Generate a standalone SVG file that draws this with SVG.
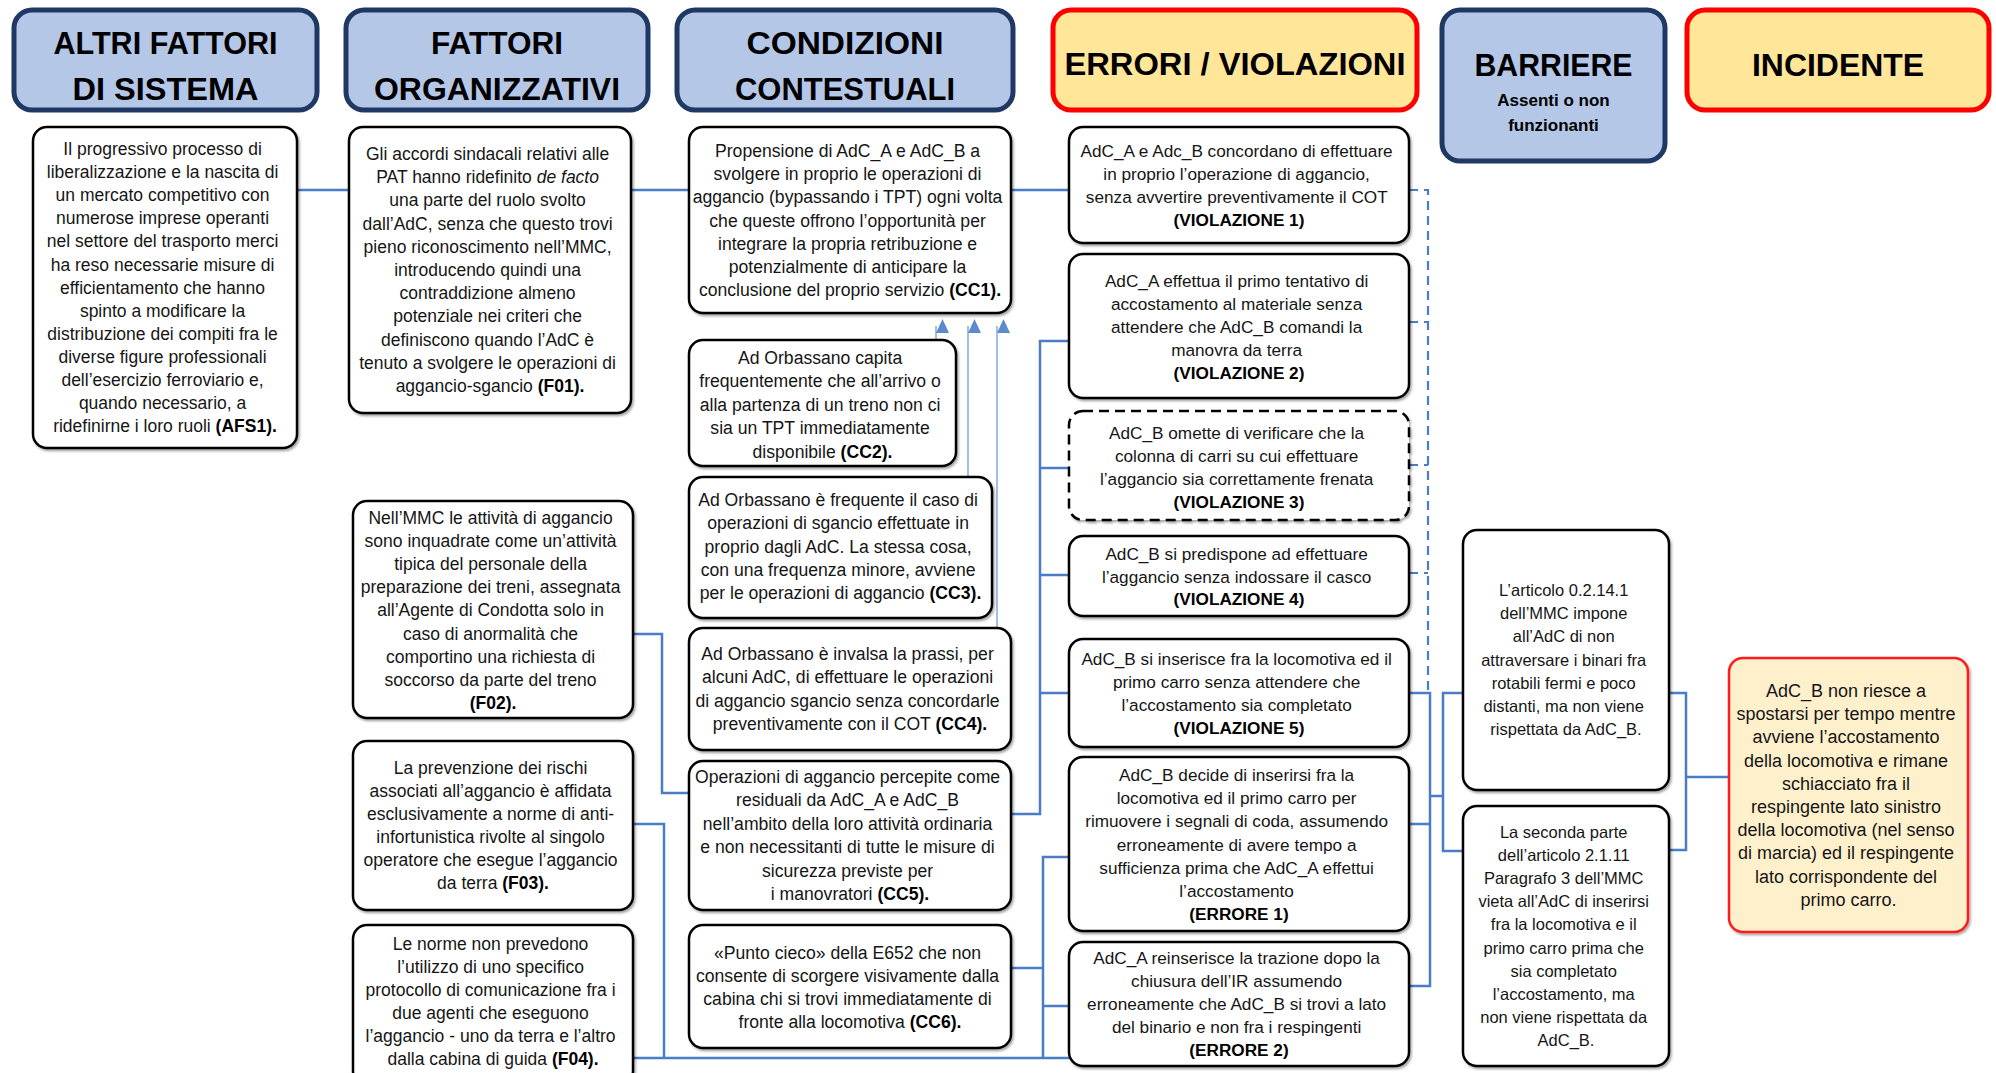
<svg xmlns="http://www.w3.org/2000/svg" width="1996" height="1073" viewBox="0 0 1996 1073">
  <style>
    .hb { fill: #B4C7E7; stroke: #1F3864; stroke-width: 5; }
    .hr { fill: #FFE699; stroke: #FF0000; stroke-width: 5; }
    .box { fill: #FFFFFF; stroke: #000000; stroke-width: 2.5; filter: url(#sh); }
    .dsh { stroke-dasharray: 10 6; }
    .inc { fill: #FFF0CC; stroke: #FF1A1A; stroke-width: 2.5; filter: url(#sh); }
    .ht { font-family: "Liberation Sans", Arial, sans-serif; font-weight: bold; font-size: 32px; text-anchor: middle; fill: #000; }
    .hs { font-family: "Liberation Sans", Arial, sans-serif; font-weight: bold; font-size: 17px; text-anchor: middle; fill: #000; }
    .t { font-family: "Liberation Sans", Arial, sans-serif; font-size: 17.5px; text-anchor: middle; fill: #151515; }
    .tc { font-size: 17.6px; }
    .tv { font-size: 17.2px; }
    .tb { font-size: 16.5px; }
    .ti { font-size: 18px; }
    .b { font-weight: bold; fill: #000; }
    .i { font-style: italic; }
    .c { fill: none; stroke: #4A7DC5; stroke-width: 2.5; }
    .cd { stroke-dasharray: 9 6; stroke-width: 2.2; }
    .ar { fill: none; stroke: #8EAEDB; stroke-width: 1.6; }
  </style>
  <defs>
    <filter id="sh" x="-5%" y="-5%" width="115%" height="115%">
      <feDropShadow dx="1.5" dy="2" stdDeviation="1" flood-color="#000" flood-opacity="0.35"/>
    </filter>
    <marker id="ah" viewBox="0 0 14 13" refX="7" refY="0" markerWidth="14" markerHeight="13" markerUnits="userSpaceOnUse" orient="auto-start-reverse">
      <path d="M0,0 L14,6.5 L0,13 Z" fill="#5B8BCB"/>
    </marker>
  </defs>

  <!-- column headers -->
  <g id="h-afs">
    <rect class="hb" x="14" y="10" width="303" height="100" rx="18"/>
    <text class="ht" x="165.5" y="54" textLength="224" lengthAdjust="spacingAndGlyphs">ALTRI FATTORI</text>
    <text class="ht" x="165.5" y="100" textLength="186" lengthAdjust="spacingAndGlyphs">DI SISTEMA</text>
  </g>
  <g id="h-fo">
    <rect class="hb" x="346" y="10" width="302" height="100" rx="18"/>
    <text class="ht" x="497" y="54" textLength="132" lengthAdjust="spacingAndGlyphs">FATTORI</text>
    <text class="ht" x="497" y="100" textLength="246" lengthAdjust="spacingAndGlyphs">ORGANIZZATIVI</text>
  </g>
  <g id="h-cc">
    <rect class="hb" x="677" y="10" width="336" height="100" rx="18"/>
    <text class="ht" x="845" y="54" textLength="197" lengthAdjust="spacingAndGlyphs">CONDIZIONI</text>
    <text class="ht" x="845" y="100" textLength="220" lengthAdjust="spacingAndGlyphs">CONTESTUALI</text>
  </g>
  <g id="h-ev">
    <rect class="hr" x="1053" y="10" width="364" height="100" rx="18"/>
    <text class="ht" x="1235" y="75" textLength="341" lengthAdjust="spacingAndGlyphs">ERRORI / VIOLAZIONI</text>
  </g>
  <g id="h-bar">
    <rect class="hb" x="1442" y="10" width="223" height="151" rx="18"/>
    <text class="ht" x="1553.5" y="76" textLength="158" lengthAdjust="spacingAndGlyphs">BARRIERE</text>
    <text class="hs" x="1553.5" y="106">Assenti o non</text>
    <text class="hs" x="1553.5" y="131">funzionanti</text>
  </g>
  <g id="h-inc">
    <rect class="hr" x="1687" y="10" width="302" height="100" rx="18"/>
    <text class="ht" x="1838" y="76" textLength="172" lengthAdjust="spacingAndGlyphs">INCIDENTE</text>
  </g>

  <!-- connectors -->
  <g id="connectors">
    <!-- top row -->
    <path class="c" d="M297,190 H349"/>
    <path class="c" d="M631,190 H689"/>
    <path class="c" d="M1011,190 H1069"/>
    <!-- F02 / F03 / F04 -->
    <path class="c" d="M633,634 H662 V793 H689"/>
    <path class="c" d="M633,824 H664 V1058"/>
    <path class="c" d="M633,1058 H1069"/>
    <!-- CC5 bus to violations -->
    <path class="c" d="M1011,814 H1040 V341 H1069"/>
    <path class="c" d="M1040,468 H1069 M1040,575 H1069 M1040,693 H1069"/>
    <!-- CC6 bus to errors -->
    <path class="c" d="M1069,857 H1043 V1058"/>
    <path class="c" d="M1011,968 H1043 M1043,1006 H1069"/>
    <!-- dashed bus from violations 1-4 -->
    <path class="c cd" d="M1409,190 H1428 V693"/>
    <path class="c cd" d="M1409,322 H1428 M1409,465 H1428 M1409,573 H1428"/>
    <!-- violations/errors to barriers -->
    <path class="c" d="M1409,693 H1430 V986 H1409"/>
    <path class="c" d="M1409,824 H1430 M1430,796 H1443"/>
    <path class="c" d="M1463,693 H1443 V851 H1463"/>
    <!-- barriers to incident -->
    <path class="c" d="M1669,693 H1686 V850 H1669"/>
    <path class="c" d="M1686,777 H1729"/>
    <!-- arrows into CC1 -->
    <path class="ar" d="M936,340 V326" marker-end="url(#ah)"/>
    <path class="ar" d="M968,476 V326" marker-end="url(#ah)"/>
    <path class="ar" d="M997,628 V326" marker-end="url(#ah)"/>
  </g>

  <!-- altri fattori di sistema -->
  <g id="afs1">
    <rect class="box" x="33" y="127" width="264" height="321" rx="14"/>
    <text class="t" x="165" y="155">
      <tspan x="165">Il progressivo processo di</tspan>
      <tspan x="165" dy="23.1">liberalizzazione e la nascita di</tspan>
      <tspan x="165" dy="23.1">un mercato competitivo con</tspan>
      <tspan x="165" dy="23.1">numerose imprese operanti</tspan>
      <tspan x="165" dy="23.1">nel settore del trasporto merci</tspan>
      <tspan x="165" dy="23.1">ha reso necessarie misure di</tspan>
      <tspan x="165" dy="23.1">efficientamento che hanno</tspan>
      <tspan x="165" dy="23.1">spinto a modificare la</tspan>
      <tspan x="165" dy="23.1">distribuzione dei compiti fra le</tspan>
      <tspan x="165" dy="23.1">diverse figure professionali</tspan>
      <tspan x="165" dy="23.1">dell’esercizio ferroviario e,</tspan>
      <tspan x="165" dy="23.1">quando necessario, a</tspan>
      <tspan x="165" dy="23.1">ridefinirne i loro ruoli <tspan class="b">(AFS1).</tspan></tspan>
    </text>
  </g>

  <!-- fattori organizzativi -->
  <g id="f01">
    <rect class="box" x="349" y="127" width="282" height="286" rx="14"/>
    <text class="t" x="490" y="160">
      <tspan x="490">Gli accordi sindacali relativi alle</tspan>
      <tspan x="490" dy="23.2">PAT hanno ridefinito <tspan class="i">de facto</tspan></tspan>
      <tspan x="490" dy="23.2">una parte del ruolo svolto</tspan>
      <tspan x="490" dy="23.2">dall’AdC, senza che questo trovi</tspan>
      <tspan x="490" dy="23.2">pieno riconoscimento nell’MMC,</tspan>
      <tspan x="490" dy="23.2">introducendo quindi una</tspan>
      <tspan x="490" dy="23.2">contraddizione almeno</tspan>
      <tspan x="490" dy="23.2">potenziale nei criteri che</tspan>
      <tspan x="490" dy="23.2">definiscono quando l’AdC è</tspan>
      <tspan x="490" dy="23.2">tenuto a svolgere le operazioni di</tspan>
      <tspan x="490" dy="23.2">aggancio-sgancio <tspan class="b">(F01).</tspan></tspan>
    </text>
  </g>
  <g id="f02">
    <rect class="box" x="353" y="501" width="280" height="217" rx="14"/>
    <text class="t" x="493" y="524">
      <tspan x="493">Nell’MMC le attività di aggancio</tspan>
      <tspan x="493" dy="23.1">sono inquadrate come un’attività</tspan>
      <tspan x="493" dy="23.1">tipica del personale della</tspan>
      <tspan x="493" dy="23.1">preparazione dei treni, assegnata</tspan>
      <tspan x="493" dy="23.1">all’Agente di Condotta solo in</tspan>
      <tspan x="493" dy="23.1">caso di anormalità che</tspan>
      <tspan x="493" dy="23.1">comportino una richiesta di</tspan>
      <tspan x="493" dy="23.1">soccorso da parte del treno</tspan>
      <tspan x="493" dy="23.1" class="b">(F02).</tspan>
    </text>
  </g>
  <g id="f03">
    <rect class="box" x="353" y="741" width="280" height="169" rx="14"/>
    <text class="t" x="493" y="774">
      <tspan x="493">La prevenzione dei rischi</tspan>
      <tspan x="493" dy="23">associati all’aggancio è affidata</tspan>
      <tspan x="493" dy="23">esclusivamente a norme di anti-</tspan>
      <tspan x="493" dy="23">infortunistica rivolte al singolo</tspan>
      <tspan x="493" dy="23">operatore che esegue l’aggancio</tspan>
      <tspan x="493" dy="23">da terra <tspan class="b">(F03).</tspan></tspan>
    </text>
  </g>
  <g id="f04">
    <rect class="box" x="353" y="925" width="280" height="160" rx="14"/>
    <text class="t" x="493" y="950">
      <tspan x="493">Le norme non prevedono</tspan>
      <tspan x="493" dy="23">l’utilizzo di uno specifico</tspan>
      <tspan x="493" dy="23">protocollo di comunicazione fra i</tspan>
      <tspan x="493" dy="23">due agenti che eseguono</tspan>
      <tspan x="493" dy="23">l’aggancio - uno da terra e l’altro</tspan>
      <tspan x="493" dy="23">dalla cabina di guida <tspan class="b">(F04).</tspan></tspan>
    </text>
  </g>

  <!-- condizioni contestuali -->
  <g id="cc1">
    <rect class="box" x="689" y="127" width="322" height="186" rx="14"/>
    <text class="t tc" x="850" y="157">
      <tspan x="850">Propensione di AdC_A e AdC_B a</tspan>
      <tspan x="850" dy="23.2">svolgere in proprio le operazioni di</tspan>
      <tspan x="850" dy="23.2">aggancio (bypassando i TPT) ogni volta</tspan>
      <tspan x="850" dy="23.2">che queste offrono l’opportunità per</tspan>
      <tspan x="850" dy="23.2">integrare la propria retribuzione e</tspan>
      <tspan x="850" dy="23.2">potenzialmente di anticipare la</tspan>
      <tspan x="850" dy="23.2">conclusione del proprio servizio  <tspan class="b">(CC1).</tspan></tspan>
    </text>
  </g>
  <g id="cc2">
    <rect class="box" x="689" y="340" width="267" height="126" rx="14"/>
    <text class="t tc" x="822.5" y="364">
      <tspan x="822.5">Ad Orbassano capita</tspan>
      <tspan x="822.5" dy="23.4">frequentemente che all’arrivo o</tspan>
      <tspan x="822.5" dy="23.4">alla partenza di un treno non ci</tspan>
      <tspan x="822.5" dy="23.4">sia un TPT immediatamente</tspan>
      <tspan x="822.5" dy="23.4">disponibile <tspan class="b">(CC2).</tspan></tspan>
    </text>
  </g>
  <g id="cc3">
    <rect class="box" x="689" y="477" width="303" height="141" rx="14"/>
    <text class="t tc" x="840.5" y="506">
      <tspan x="840.5">Ad Orbassano è frequente il caso di</tspan>
      <tspan x="840.5" dy="23.25">operazioni di sgancio effettuate in</tspan>
      <tspan x="840.5" dy="23.25">proprio dagli AdC. La stessa cosa,</tspan>
      <tspan x="840.5" dy="23.25">con una frequenza minore, avviene</tspan>
      <tspan x="840.5" dy="23.25">per le operazioni di aggancio <tspan class="b">(CC3).</tspan></tspan>
    </text>
  </g>
  <g id="cc4">
    <rect class="box" x="689" y="628" width="322" height="122" rx="14"/>
    <text class="t tc" x="850" y="660">
      <tspan x="850">Ad Orbassano è invalsa la prassi, per</tspan>
      <tspan x="850" dy="23.3">alcuni AdC, di effettuare le operazioni</tspan>
      <tspan x="850" dy="23.3">di aggancio sgancio senza concordarle</tspan>
      <tspan x="850" dy="23.3">preventivamente con il COT <tspan class="b">(CC4).</tspan></tspan>
    </text>
  </g>
  <g id="cc5">
    <rect class="box" x="689" y="761" width="322" height="149" rx="14"/>
    <text class="t tc" x="850" y="783">
      <tspan x="850">Operazioni di aggancio percepite come</tspan>
      <tspan x="850" dy="23.4">residuali da AdC_A e AdC_B</tspan>
      <tspan x="850" dy="23.4">nell’ambito della loro attività ordinaria</tspan>
      <tspan x="850" dy="23.4">e non necessitanti di tutte le misure di</tspan>
      <tspan x="850" dy="23.4">sicurezza previste per</tspan>
      <tspan x="850" dy="23.4">i manovratori <tspan class="b">(CC5).</tspan></tspan>
    </text>
  </g>
  <g id="cc6">
    <rect class="box" x="689" y="925" width="322" height="123" rx="14"/>
    <text class="t tc" x="850" y="959">
      <tspan x="850">«Punto cieco» della E652  che non</tspan>
      <tspan x="850" dy="23">consente di scorgere visivamente dalla</tspan>
      <tspan x="850" dy="23">cabina chi si trovi immediatamente di</tspan>
      <tspan x="850" dy="23">fronte alla locomotiva <tspan class="b">(CC6).</tspan></tspan>
    </text>
  </g>

  <!-- errori / violazioni -->
  <g id="v1">
    <rect class="box" x="1069" y="127" width="340" height="116" rx="14"/>
    <text class="t tv" x="1239" y="157">
      <tspan x="1239">AdC_A e Adc_B concordano di effettuare</tspan>
      <tspan x="1239" dy="23">in proprio l’operazione di aggancio,</tspan>
      <tspan x="1239" dy="23">senza avvertire preventivamente il COT</tspan>
      <tspan x="1239" dy="23" class="b">(VIOLAZIONE 1)</tspan>
    </text>
  </g>
  <g id="v2">
    <rect class="box" x="1069" y="254" width="340" height="144" rx="14"/>
    <text class="t tv" x="1239" y="287">
      <tspan x="1239">AdC_A effettua il primo tentativo di</tspan>
      <tspan x="1239" dy="23">accostamento al materiale senza</tspan>
      <tspan x="1239" dy="23">attendere che AdC_B comandi  la</tspan>
      <tspan x="1239" dy="23">manovra da terra</tspan>
      <tspan x="1239" dy="23" class="b">(VIOLAZIONE 2)</tspan>
    </text>
  </g>
  <g id="v3">
    <rect class="box dsh" x="1069" y="411" width="340" height="109" rx="14"/>
    <text class="t tv" x="1239" y="439">
      <tspan x="1239">AdC_B omette di verificare che la</tspan>
      <tspan x="1239" dy="23">colonna di carri su cui effettuare</tspan>
      <tspan x="1239" dy="23">l’aggancio sia correttamente frenata</tspan>
      <tspan x="1239" dy="23" class="b">(VIOLAZIONE 3)</tspan>
    </text>
  </g>
  <g id="v4">
    <rect class="box" x="1069" y="536" width="340" height="80" rx="14"/>
    <text class="t tv" x="1239" y="560">
      <tspan x="1239">AdC_B si predispone ad effettuare</tspan>
      <tspan x="1239" dy="22.6">l’aggancio senza indossare il casco</tspan>
      <tspan x="1239" dy="22.6" class="b">(VIOLAZIONE 4)</tspan>
    </text>
  </g>
  <g id="v5">
    <rect class="box" x="1069" y="639" width="340" height="108" rx="14"/>
    <text class="t tv" x="1239" y="665">
      <tspan x="1239">AdC_B si inserisce fra la locomotiva ed il</tspan>
      <tspan x="1239" dy="23">primo carro  senza attendere che</tspan>
      <tspan x="1239" dy="23">l’accostamento sia completato</tspan>
      <tspan x="1239" dy="23" class="b">(VIOLAZIONE 5)</tspan>
    </text>
  </g>
  <g id="e1">
    <rect class="box" x="1069" y="757" width="340" height="174" rx="14"/>
    <text class="t tv" x="1239" y="781">
      <tspan x="1239">AdC_B decide di inserirsi fra la</tspan>
      <tspan x="1239" dy="23.2">locomotiva ed il primo carro per</tspan>
      <tspan x="1239" dy="23.2">rimuovere i segnali di coda, assumendo</tspan>
      <tspan x="1239" dy="23.2">erroneamente  di avere tempo a</tspan>
      <tspan x="1239" dy="23.2">sufficienza prima che AdC_A effettui</tspan>
      <tspan x="1239" dy="23.2">l’accostamento</tspan>
      <tspan x="1239" dy="23.2" class="b">(ERRORE 1)</tspan>
    </text>
  </g>
  <g id="e2">
    <rect class="box" x="1069" y="942" width="340" height="124" rx="14"/>
    <text class="t tv" x="1239" y="964">
      <tspan x="1239">AdC_A reinserisce la trazione dopo la</tspan>
      <tspan x="1239" dy="23">chiusura dell’IR assumendo</tspan>
      <tspan x="1239" dy="23">erroneamente che AdC_B si trovi a lato</tspan>
      <tspan x="1239" dy="23">del binario e non fra i respingenti</tspan>
      <tspan x="1239" dy="23" class="b">(ERRORE 2)</tspan>
    </text>
  </g>

  <!-- barriere -->
  <g id="b1">
    <rect class="box" x="1463" y="530" width="206" height="260" rx="14"/>
    <text class="t tb" x="1566" y="596">
      <tspan x="1566">L’articolo 0.2.14.1</tspan>
      <tspan x="1566" dy="23.2">dell’MMC impone</tspan>
      <tspan x="1566" dy="23.2">all’AdC di non</tspan>
      <tspan x="1566" dy="23.2">attraversare i binari fra</tspan>
      <tspan x="1566" dy="23.2">rotabili fermi e poco</tspan>
      <tspan x="1566" dy="23.2">distanti, ma non viene</tspan>
      <tspan x="1566" dy="23.2">rispettata da AdC_B.</tspan>
    </text>
  </g>
  <g id="b2">
    <rect class="box" x="1463" y="806" width="206" height="260" rx="14"/>
    <text class="t tb" x="1566" y="838">
      <tspan x="1566">La seconda parte</tspan>
      <tspan x="1566" dy="23.1">dell’articolo 2.1.11</tspan>
      <tspan x="1566" dy="23.1">Paragrafo 3 dell’MMC</tspan>
      <tspan x="1566" dy="23.1">vieta all’AdC di inserirsi</tspan>
      <tspan x="1566" dy="23.1">fra la locomotiva e il</tspan>
      <tspan x="1566" dy="23.1">primo carro prima che</tspan>
      <tspan x="1566" dy="23.1">sia completato</tspan>
      <tspan x="1566" dy="23.1">l’accostamento, ma</tspan>
      <tspan x="1566" dy="23.1">non viene rispettata da</tspan>
      <tspan x="1566" dy="23.1">AdC_B.</tspan>
    </text>
  </g>

  <!-- incidente -->
  <g id="i1">
    <rect class="inc" x="1729" y="658" width="239" height="274" rx="14"/>
    <text class="t ti" x="1848.5" y="697">
      <tspan x="1848.5">AdC_B non riesce a</tspan>
      <tspan x="1848.5" dy="23.2">spostarsi per tempo mentre</tspan>
      <tspan x="1848.5" dy="23.2">avviene l’accostamento</tspan>
      <tspan x="1848.5" dy="23.2">della locomotiva e rimane</tspan>
      <tspan x="1848.5" dy="23.2">schiacciato fra il</tspan>
      <tspan x="1848.5" dy="23.2">respingente lato sinistro</tspan>
      <tspan x="1848.5" dy="23.2">della locomotiva (nel senso</tspan>
      <tspan x="1848.5" dy="23.2">di marcia) ed il respingente</tspan>
      <tspan x="1848.5" dy="23.2">lato corrispondente del</tspan>
      <tspan x="1848.5" dy="23.2">primo carro.</tspan>
    </text>
  </g>
</svg>
